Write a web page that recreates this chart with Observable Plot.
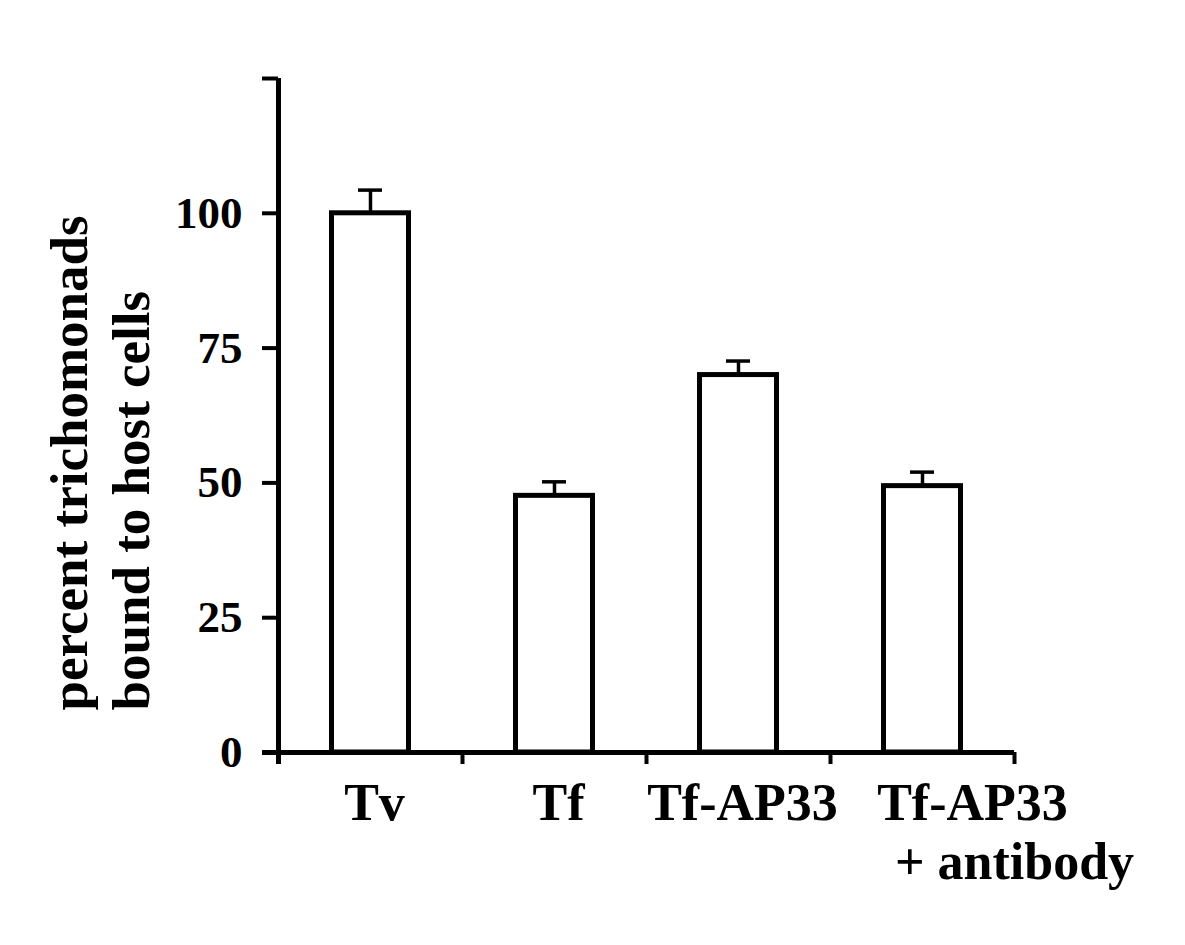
<!DOCTYPE html>
<html><head><meta charset="utf-8">
<script src="https://cdn.jsdelivr.net/npm/d3@7"></script>
<script src="https://cdn.jsdelivr.net/npm/@observablehq/plot@0.6"></script>
<style>body{margin:0;background:#fff} svg{display:block}</style>
</head><body><div id="chart"></div>
<script>
const categories = ["Tv", "Tf", "Tf-AP33", "Tf-AP33"];
const secondLine = ["", "", "", "+ antibody"];
const values = [100, 47.6, 70, 49.4];
const errors = [4.3, 2.6, 2.6, 2.6];
const yTicks = [0, 25, 50, 75, 100, 125];
const yTickLabels = ["0", "25", "50", "75", "100", ""];
const xBoundaries = [0, 1, 2, 3, 4];
const yTitle = ["percent trichomonads", "bound to host cells"];

const data = categories.map((c, i) => ({i, c, c2: secondLine[i], v: values[i], e: errors[i]}));
const font = "'Liberation Serif', 'Times New Roman', serif";

const chart = Plot.plot({
  width: 1185,
  height: 945,
  marginLeft: 278,
  marginRight: 171,
  marginTop: 78,
  marginBottom: 193,
  style: {fontFamily: font, fontWeight: "bold", color: "black", background: "white"},
  x: {domain: [0, 4]},
  y: {domain: [0, 125]},
  marks: [
    Plot.rectY(data, {x1: d => d.i, x2: d => d.i + 1, y1: 0, y2: "v", insetLeft: 53.5, insetRight: 53.5,
      fill: "white", stroke: "black", strokeWidth: 5, strokeLinejoin: "miter"}),
    Plot.ruleX(data, {x: d => d.i + 0.5, y1: "v", y2: d => d.v + d.e, stroke: "black", strokeWidth: 3.5}),
    Plot.ruleY(data, {y: d => d.v + d.e, x1: d => d.i, x2: d => d.i + 1, insetLeft: 80, insetRight: 80,
      stroke: "black", strokeWidth: 3.5}),
    Plot.ruleY([0], {insetLeft: -16, stroke: "black", strokeWidth: 5}),
    Plot.ruleX([0], {insetBottom: -12, stroke: "black", strokeWidth: 5}),
    Plot.axisY(yTicks, {tickSize: 16, tickPadding: 20, strokeWidth: 4, fontSize: 45, fontWeight: "bold",
      tickFormat: d => yTickLabels[yTicks.indexOf(d)], label: null}),
    Plot.axisX(xBoundaries, {tickSize: 12, strokeWidth: 4, tickFormat: () => "", label: null}),
    Plot.text(data.filter(d => d.c2 === ""), {x: d => d.i + 0.5, y: 0, text: "c", dx: 4, dy: 31,
      lineAnchor: "top", fontSize: 52, fontWeight: "bold", fill: "black"}),
    Plot.text(data.filter(d => d.c2 !== ""), {x: d => d.i + 0.5, y: 0, text: "c", dx: 50, dy: 31,
      lineAnchor: "top", fontSize: 52, fontWeight: "bold", fill: "black"}),
    Plot.text(data.filter(d => d.c2 !== ""), {x: d => d.i + 0.5, y: 0, text: "c2", dx: 92, dy: 90,
      lineAnchor: "top", fontSize: 52, fontWeight: "bold", fill: "black"}),
    Plot.text([yTitle.join("\n")], {frameAnchor: "bottom-left", rotate: -90, textAnchor: "start",
      lineAnchor: "middle", lineHeight: 1.17, dx: -180.5, dy: -42, fontSize: 53, fontWeight: "bold", fill: "black"})
  ]
});
document.getElementById("chart").appendChild(chart);
</script>
</body></html>
